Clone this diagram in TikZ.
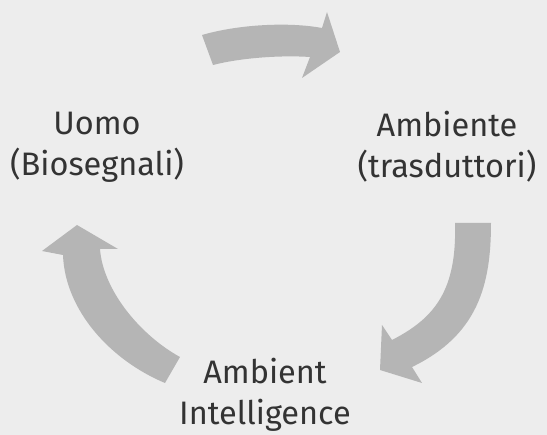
\documentclass[tikz,border=0pt]{standalone}
\usepackage{fontspec}
\setmainfont{Fira Sans}
\definecolor{paper}{HTML}{EDEDED}
\definecolor{arrowgray}{HTML}{B5B5B5}
\definecolor{ink}{HTML}{333333}
\tikzset{
  bigarrow/.style={fill=arrowgray, draw=none},
  lbl/.style={text=ink, align=center, inner sep=0pt, font=\fontsize{32.5}{41}\selectfont}
}
\begin{document}
\begin{tikzpicture}[x=1pt,y=-1pt]
\fill[paper] (0,0) rectangle (547,435);
\useasboundingbox (0,0) rectangle (547,435);
% top arrow
\fill[bigarrow] (202,35) .. controls (240,24) and (290,22) .. (322,28)
  -- (327,12) -- (340,52) -- (302,78) -- (310,57)
  .. controls (280,55) and (240,58) .. (213,65) -- cycle;
% right arrow
\fill[bigarrow] (455,223) -- (491,223) .. controls (491,285) and (478,335) .. (412,367)
  -- (422,383) -- (380,370) -- (382,325) -- (392,340)
  .. controls (435,318) and (457,290) .. (455,223) -- cycle;
% left arrow
\fill[bigarrow] (77,225) -- (118,249) -- (100,249)
  .. controls (103,290) and (140,335) .. (180,357) -- (165,383)
  .. controls (110,360) and (65,310) .. (63,255) -- (42,251) -- cycle;
\node[lbl] (uomo) at (97,147) {Uomo\\(Biosegnali)};
\node[lbl] (amb) at (447,147) {Ambiente\\(trasduttori)};
\node[lbl] (ami) at (265,395) {Ambient\\Intelligence};
\end{tikzpicture}
\end{document}
